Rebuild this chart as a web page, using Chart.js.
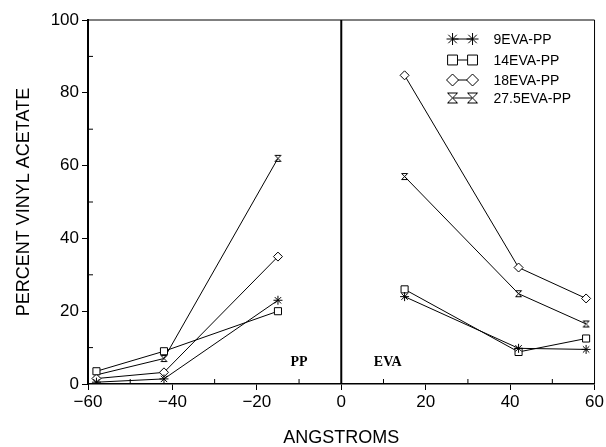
<!DOCTYPE html>
<html>
<head>
<meta charset="utf-8">
<script src="https://cdn.jsdelivr.net/npm/chart.js@4.4.0/dist/chart.umd.min.js"></script>
<style>
  html, body { margin: 0; padding: 0; background: #fff; }
</style>
</head>
<body>
<canvas id="vaChart" width="606" height="447"></canvas>
<script>
// distance from the PP/EVA interface in angstroms (negative = PP side)
const angstroms = [-58, -42, -15, 15, 42, 58];

const seriesNames = ['9EVA-PP', '14EVA-PP', '18EVA-PP', '27.5EVA-PP'];
const eva9   = [0.5, 1.4, 23, 24, 9.8, 9.5];
const eva14  = [3.5, 9, 20, 26, 8.8, 12.5];
const eva18  = [1.5, 3.2, 35, 84.8, 32, 23.5];
const eva275 = [2.5, 7, 62, 57, 24.8, 16.5];

const xTicks = [-60, -40, -20, 0, 20, 40, 60];
const yTicks = [0, 20, 40, 60, 80, 100];
const regionLabels = ['PP', 'EVA'];

const SANS = '"Liberation Sans", Arial, Helvetica, sans-serif';

// hourglass marker (no built-in pointStyle for it)
function hourglass(r) {
  const s = 2 * r + 3;
  const c = document.createElement('canvas');
  c.width = s; c.height = s;
  const g = c.getContext('2d');
  const lo = 1.5, hi = s - 1.5;
  g.strokeStyle = '#000';
  g.lineWidth = 1;
  g.beginPath();
  g.moveTo(lo, lo);
  g.lineTo(hi, lo);
  g.lineTo(lo, hi);
  g.lineTo(hi, hi);
  g.closePath();
  g.stroke();
  return c;
}

const styles = ['star', 'rect', 'rectRot', hourglass(3)];
const radii = [4.5, 5, 4.5, 4];
const legendStyles = ['star', 'rect', 'rectRot', hourglass(5)];
const legendRadii = [6, 7, 6, 5];
const values = [eva9, eva14, eva18, eva275];

const datasets = seriesNames.map((name, i) => ({
  label: name,
  data: angstroms.map((a, j) => ({ x: a, y: values[i][j] })),
  borderColor: '#000',
  borderWidth: 1,
  pointStyle: styles[i],
  pointRadius: radii[i],
  pointBorderColor: '#000',
  pointBackgroundColor: '#fff',
  pointBorderWidth: 1,
  fill: false,
  tension: 0,
  // no line across the interface
  segment: {
    borderColor: ctx => (ctx.p0.parsed.x < 0 && ctx.p1.parsed.x > 0) ? 'rgba(0,0,0,0)' : '#000'
  }
}));

// box, interface line, inner minor ticks, region names, legend
const decor = {
  id: 'decor',
  beforeDatasetsDraw(chart) {
    const { ctx, chartArea: a, scales: { x, y } } = chart;
    ctx.save();
    ctx.strokeStyle = '#000';
    ctx.lineWidth = 1;
    ctx.beginPath();
    ctx.moveTo(a.left, a.top);
    ctx.lineTo(a.right, a.top);
    ctx.lineTo(a.right, a.bottom);
    ctx.stroke();

    ctx.lineWidth = 2;
    const x0 = x.getPixelForValue(0);
    ctx.beginPath();
    ctx.moveTo(x0, a.top);
    ctx.lineTo(x0, a.bottom);
    ctx.stroke();

    ctx.lineWidth = 1;
    ctx.beginPath();
    for (let v = -50; v <= 50; v += 20) {
      const px = x.getPixelForValue(v);
      ctx.moveTo(px, a.bottom);
      ctx.lineTo(px, a.bottom - 5);
    }
    for (let v = 10; v < 100; v += 20) {
      const py = y.getPixelForValue(v);
      ctx.moveTo(a.left, py);
      ctx.lineTo(a.left + 5, py);
    }
    ctx.stroke();

    ctx.fillStyle = '#000';
    ctx.font = 'bold 14px "Liberation Serif", "Times New Roman", serif';
    ctx.textAlign = 'center';
    ctx.textBaseline = 'middle';
    ctx.fillText(regionLabels[0], x.getPixelForValue(-10), y.getPixelForValue(5.8));
    ctx.fillText(regionLabels[1], x.getPixelForValue(11), y.getPixelForValue(5.8));
    ctx.restore();
  },
  afterDraw(chart) {
    const { ctx, chartArea: a } = chart;
    ctx.save();
    ctx.strokeStyle = '#000';
    ctx.fillStyle = '#000';
    ctx.font = '14px ' + SANS;
    ctx.textAlign = 'left';
    ctx.textBaseline = 'middle';
    const rows = [19, 40, 60, 78];
    seriesNames.forEach((name, i) => {
      const ry = a.top + rows[i];
      const x1 = a.right - 142, x2 = a.right - 122;
      ctx.lineWidth = 1;
      ctx.beginPath();
      ctx.moveTo(x1, ry);
      ctx.lineTo(x2, ry);
      ctx.stroke();
      [x1, x2].forEach(px => {
        ctx.fillStyle = '#fff';
        Chart.helpers.drawPoint(ctx, {
          pointStyle: legendStyles[i], radius: legendRadii[i], borderWidth: 1, rotation: 0
        }, px, ry);
      });
      ctx.fillStyle = '#000';
      ctx.fillText(name, a.right - 101, ry + 1);
    });
    ctx.restore();
  }
};

new Chart(document.getElementById('vaChart'), {
  type: 'line',
  data: { datasets },
  plugins: [decor],
  options: {
    responsive: false,
    animation: false,
    devicePixelRatio: 1,
    layout: { padding: { top: 20, right: 11, left: 0, bottom: 0 } },
    plugins: { legend: { display: false }, tooltip: { enabled: false } },
    scales: {
      x: {
        type: 'linear',
        min: -60,
        max: 60,
        afterBuildTicks: s => { s.ticks = xTicks.map(v => ({ value: v })); },
        afterFit: s => { s.height = 63; },
        grid: { drawOnChartArea: false, color: '#000', tickLength: 6, lineWidth: 1 },
        border: { color: '#000', width: 1.5 },
        ticks: {
          color: '#000',
          padding: 2,
          font: { family: SANS, size: 17 },
          callback: v => v < 0 ? '\u2212' + Math.abs(v) : String(v)
        },
        title: {
          display: true,
          text: 'ANGSTROMS',
          color: '#000',
          font: { family: SANS, size: 18, lineHeight: 1 },
          padding: { top: 0, bottom: 0 }
        }
      },
      y: {
        type: 'linear',
        min: 0,
        max: 100,
        afterBuildTicks: s => { s.ticks = yTicks.map(v => ({ value: v })); },
        afterFit: s => { s.width = 88; },
        grid: { drawOnChartArea: false, color: '#000', tickLength: 6, lineWidth: 1 },
        border: { color: '#000', width: 2 },
        ticks: {
          color: '#000',
          padding: 3,
          font: { family: SANS, size: 17 }
        },
        title: {
          display: true,
          text: 'PERCENT VINYL ACETATE',
          color: '#000',
          font: { family: SANS, size: 18 },
          padding: { top: 13, bottom: 0 }
        }
      }
    }
  }
});
</script>
</body>
</html>
